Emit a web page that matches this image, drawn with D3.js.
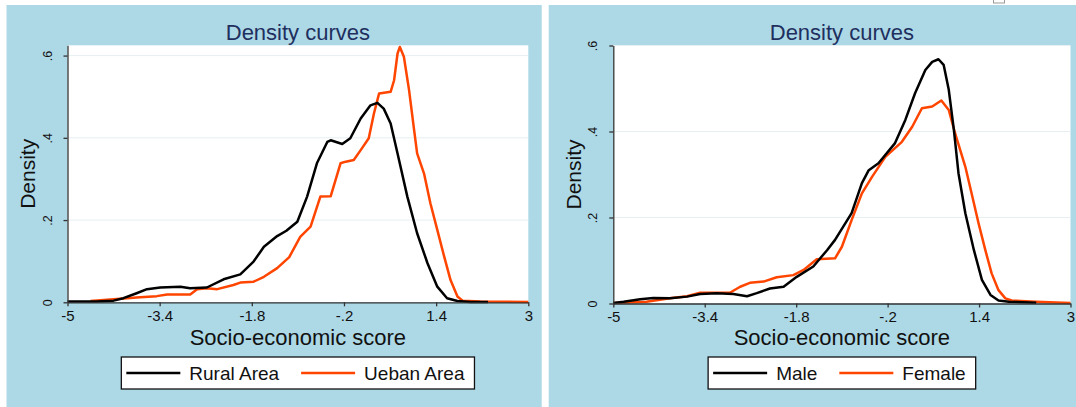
<!DOCTYPE html>
<html>
<head>
<meta charset="utf-8">
<title>Density curves</title>
<style>
  body { margin: 0; background: #fff; }
  svg text { font-family: "Liberation Sans", Arial, sans-serif; }
  .axis path, .axis line { stroke: #333; stroke-width: 1.3; }
  .grid { stroke: #e6eff1; stroke-width: 1; }
</style>
</head>
<body>
<script src="https://cdn.jsdelivr.net/npm/d3@7"></script>
<script>

// tick values and their printed labels (Stata style)
var xTicks = [-5, -3.4, -1.8, -0.2, 1.4, 3];
var xTickLabels = ["-5", "-3.4", "-1.8", "-.2", "1.4", "3"];
var yTicks = [0, 0.2, 0.4, 0.6];
var yTickLabels = ["0", ".2", ".4", ".6"];

// left panel: area of residence
var ruralScore   = [-5, -4.5, -4.2, -4.03, -3.8, -3.62, -3.39, -3.04, -2.87, -2.58, -2.29, -2.0, -1.77, -1.59, -1.36, -1.2, -1.01, -0.84, -0.67, -0.49, -0.43, -0.23, -0.09, 0.09, 0.26, 0.38, 0.49, 0.61, 0.73, 0.9, 1.07, 1.25, 1.42, 1.59, 1.77, 2.0, 2.3];
var ruralDensity = [0.002, 0.002, 0.004, 0.01, 0.022, 0.032, 0.036, 0.038, 0.034, 0.036, 0.056, 0.068, 0.099, 0.135, 0.161, 0.174, 0.196, 0.257, 0.338, 0.39, 0.394, 0.385, 0.399, 0.447, 0.479, 0.485, 0.471, 0.435, 0.362, 0.257, 0.168, 0.095, 0.038, 0.01, 0.003, 0.001, 0.001];

var urbanScore   = [-4.6, -3.97, -3.74, -3.45, -3.27, -2.87, -2.75, -2.58, -2.4, -2.12, -2.0, -1.77, -1.59, -1.36, -1.15, -0.96, -0.78, -0.61, -0.43, -0.26, -0.17, -0.03, 0.09, 0.23, 0.32, 0.41, 0.61, 0.67, 0.73, 0.77, 0.84, 0.93, 1.01, 1.07, 1.19, 1.3, 1.42, 1.54, 1.65, 1.77, 1.86, 2.17, 3];
var urbanDensity = [0.003, 0.01, 0.012, 0.015, 0.019, 0.019, 0.032, 0.034, 0.032, 0.042, 0.048, 0.05, 0.062, 0.083, 0.11, 0.159, 0.184, 0.257, 0.258, 0.338, 0.342, 0.346, 0.37, 0.399, 0.459, 0.508, 0.512, 0.54, 0.605, 0.621, 0.597, 0.516, 0.427, 0.362, 0.313, 0.241, 0.176, 0.111, 0.054, 0.014, 0.004, 0.002, 0.001];

// right panel: gender
var maleScore   = [-5, -4.82, -4.53, -4.3, -4.01, -3.71, -3.48, -3.19, -2.9, -2.66, -2.49, -2.26, -2.02, -1.79, -1.5, -1.26, -1.12, -0.83, -0.65, -0.53, -0.36, -0.07, 0.11, 0.28, 0.46, 0.58, 0.69, 0.78, 0.87, 0.96, 1.04, 1.16, 1.31, 1.45, 1.6, 1.74, 1.92, 2.4];
var maleDensity = [0.001, 0.004, 0.01, 0.013, 0.012, 0.016, 0.022, 0.024, 0.022, 0.017, 0.024, 0.035, 0.039, 0.062, 0.086, 0.124, 0.148, 0.21, 0.28, 0.31, 0.326, 0.373, 0.427, 0.489, 0.543, 0.562, 0.568, 0.555, 0.497, 0.403, 0.303, 0.21, 0.124, 0.055, 0.02, 0.007, 0.004, 0.002];

var femaleScore   = [-5, -4.42, -4.01, -3.71, -3.48, -2.96, -2.78, -2.61, -2.37, -2.14, -1.85, -1.67, -1.44, -1.12, -1.0, -0.83, -0.65, -0.47, -0.24, 0.05, 0.23, 0.4, 0.58, 0.74, 0.87, 0.98, 1.16, 1.27, 1.39, 1.51, 1.62, 1.74, 1.86, 1.97, 2.39, 3];
var femaleDensity = [0.001, 0.004, 0.012, 0.017, 0.025, 0.025, 0.039, 0.048, 0.051, 0.061, 0.066, 0.078, 0.103, 0.105, 0.132, 0.194, 0.256, 0.295, 0.341, 0.376, 0.411, 0.454, 0.458, 0.472, 0.45, 0.396, 0.318, 0.256, 0.187, 0.124, 0.07, 0.031, 0.012, 0.007, 0.004, 0.001];

var seriesColors = ["#000000", "#ff4500"];

var svg = d3.select("body").append("svg")
    .attr("width", 1076)
    .attr("height", 407);

// tiny selection handle at the top
svg.append("rect")
    .attr("x", 993.5).attr("y", -8)
    .attr("width", 11).attr("height", 11)
    .attr("fill", "#fff").attr("stroke", "#999");

var zip = (xs, ys) => xs.map((v, i) => [v, ys[i]]);

function drawPanel(p, series, labels) {

    svg.append("rect")
        .attr("x", p.bg[0]).attr("y", 5)
        .attr("width", p.bg[1] - p.bg[0]).attr("height", 410)
        .attr("fill", "#add8e6");

    var x = d3.scaleLinear().domain([-5, 3]).range([p.left, p.right]);
    var y = d3.scaleLinear().domain([0, p.ymax]).range([p.bottom, p.top]);

    svg.append("rect")
        .attr("x", p.left).attr("y", p.top)
        .attr("width", p.right - p.left).attr("height", p.bottom - p.top)
        .attr("fill", "#fff");

    // gridlines
    svg.append("g").selectAll("line")
        .data(yTicks.slice(1))
        .enter().append("line")
        .attr("class", "grid")
        .attr("x1", p.left).attr("x2", p.right)
        .attr("y1", d => y(d)).attr("y2", d => y(d));

    var line = d3.line().x(d => x(d[0])).y(d => y(d[1]));

    // urban/female first, black on top
    for (var i = series.length - 1; i >= 0; i--) {
        svg.append("path")
            .datum(series[i])
            .attr("d", line)
            .attr("fill", "none")
            .attr("stroke", seriesColors[i])
            .attr("stroke-width", 2.5)
            .attr("stroke-linejoin", "round");
    }

    var xAxis = svg.append("g")
        .attr("class", "axis")
        .attr("transform", "translate(0," + p.bottom + ")")
        .call(d3.axisBottom(x).tickValues(xTicks).tickSize(4).tickSizeOuter(0)
            .tickFormat((d, i) => xTickLabels[i]));
    xAxis.selectAll("text")
        .attr("y", 8).attr("dy", "0.71em")
        .style("font-size", "15px").attr("fill", "#111");

    var yAxis = svg.append("g")
        .attr("class", "axis")
        .attr("transform", "translate(" + p.left + ",0)")
        .call(d3.axisLeft(y).tickValues(yTicks).tickSize(4).tickSizeOuter(0)
            .tickFormat((d, i) => yTickLabels[i]));
    yAxis.selectAll("text")
        .attr("x", null).attr("dy", null)
        .attr("transform", "translate(-16,0) rotate(-90)")
        .attr("text-anchor", "middle")
        .style("font-size", "12.5px").attr("fill", "#111");

    var cx = (p.left + p.right) / 2;

    svg.append("text")
        .attr("x", cx).attr("y", 40)
        .attr("text-anchor", "middle")
        .style("font-size", "22px")
        .attr("fill", "#1e2f5e")
        .text("Density curves");

    svg.append("text")
        .attr("x", cx).attr("y", 345)
        .attr("text-anchor", "middle")
        .style("font-size", "22px")
        .attr("fill", "#111")
        .text("Socio-economic score");

    svg.append("text")
        .attr("transform", "translate(" + (p.left - 32.5) + "," + ((p.top + p.bottom) / 2) + ") rotate(-90)")
        .attr("text-anchor", "middle")
        .style("font-size", "21px")
        .attr("fill", "#111")
        .text("Density");

    // legend
    var leg = svg.append("g");
    var box = leg.append("rect")
        .attr("y", 357).attr("height", 32)
        .attr("fill", "#fff").attr("stroke", "#111").attr("stroke-width", 1.3);
    var pos = 5;
    labels.forEach(function (lab, i) {
        if (i > 0) pos += 22;
        leg.append("line")
            .attr("x1", pos).attr("x2", pos + 54)
            .attr("y1", 373).attr("y2", 373)
            .attr("stroke", seriesColors[i]).attr("stroke-width", 2.5);
        pos += 63;
        var t = leg.append("text")
            .attr("x", pos).attr("y", 380)
            .style("font-size", "19px")
            .attr("fill", "#111")
            .text(lab);
        pos += t.node().getComputedTextLength();
    });
    pos += 10;
    box.attr("x", 0).attr("width", pos);
    leg.attr("transform", "translate(" + (cx - pos / 2) + ",0)");
}

drawPanel({bg: [6.5, 541.7], left: 67.5, right: 528.3, top: 45.3, bottom: 302.3, ymax: 0.625},
    [zip(ruralScore, ruralDensity), zip(urbanScore, urbanDensity)],
    ["Rural Area", "Ueban Area"]);

drawPanel({bg: [548.7, 1080], left: 613.3, right: 1070.5, top: 45.5, bottom: 303.5, ymax: 0.6},
    [zip(maleScore, maleDensity), zip(femaleScore, femaleDensity)],
    ["Male", "Female"]);

</script>
</body>
</html>
